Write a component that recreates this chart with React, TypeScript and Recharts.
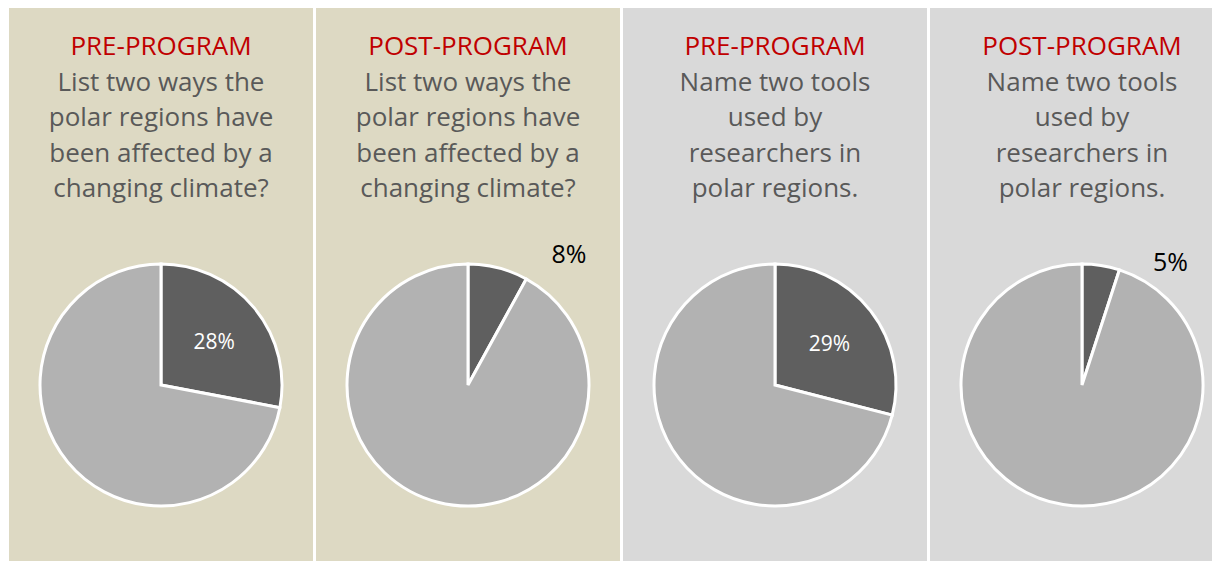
import { Cell, Pie, PieChart } from "recharts"

// survey panels, left to right
const phases = ["PRE-PROGRAM", "POST-PROGRAM", "PRE-PROGRAM", "POST-PROGRAM"]

const questions = [
    ["List two ways the", "polar regions have", "been affected by a", "changing climate?"],
    ["List two ways the", "polar regions have", "been affected by a", "changing climate?"],
    ["Name two tools", "used by", "researchers in", "polar regions."],
    ["Name two tools", "used by", "researchers in", "polar regions."],
]

// share of correct answers (%)
const correct = [28, 8, 29, 5]
const sliceNames = ["Correct", "Other"]

const panelBg = ["#ddd9c3", "#ddd9c3", "#d9d9d9", "#d9d9d9"]
const sliceColors = ["#5f5f5f", "#b2b2b2"]

// where the percentage label goes for each panel
const labelInside = [true, false, true, false]
const labelAngle = [0, 52.5, 0, 54.5]
const labelDist = [0.57, 1.37, 0.57, 1.26]

const PANEL_W = 304
const PANEL_H = 554
const RADIUS = 121
const CY = 378

const RAD = Math.PI / 180

function makeLabel(panel: number) {
    return (props: any) => {
        const { cx, cy, midAngle, outerRadius, index, value } = props
        if (index !== 0) return null
        const inside = labelInside[panel]
        const angle = inside ? midAngle : labelAngle[panel]
        const r = outerRadius * labelDist[panel]
        const x = cx + r * Math.cos(-angle * RAD)
        const y = cy + r * Math.sin(-angle * RAD)
        return (
            <text
                x={x}
                y={y}
                textAnchor="middle"
                dominantBaseline="central"
                fill={inside ? "#ffffff" : "#000000"}
                fontSize={inside ? 21 : 25}
                fontFamily="'Open Sans', sans-serif"
            >
                {value}%
            </text>
        )
    }
}

function Panel({ i }: { i: number }) {
    const data = [
        { name: sliceNames[0], value: correct[i] },
        { name: sliceNames[1], value: 100 - correct[i] },
    ]

    return (
        <div
            style={{
                position: "relative",
                width: PANEL_W,
                height: PANEL_H,
                flex: "0 0 auto",
                background: panelBg[i],
                borderTop: "1px solid #cfcfcf",
                boxSizing: "border-box",
            }}
        >
            <div
                style={{
                    position: "absolute",
                    top: 20,
                    left: 0,
                    width: PANEL_W,
                    textAlign: "center",
                    fontFamily: "'Open Sans', sans-serif",
                    fontSize: 26,
                    lineHeight: "35.5px",
                    color: "#595959",
                }}
            >
                <div style={{ color: "#c00000" }}>{phases[i]}</div>
                {questions[i].map((line, k) => (
                    <div key={k}>{line}</div>
                ))}
            </div>
            <div style={{ position: "absolute", top: -1, left: 0 }}>
                <PieChart
                    width={PANEL_W}
                    height={PANEL_H}
                    margin={{ top: 0, right: 0, bottom: 0, left: 0 }}
                >
                    <Pie
                        data={data}
                        dataKey="value"
                        nameKey="name"
                        cx={PANEL_W / 2}
                        cy={CY}
                        outerRadius={RADIUS}
                        startAngle={90}
                        endAngle={-270}
                        stroke="#ffffff"
                        strokeWidth={3}
                        label={makeLabel(i)}
                        labelLine={false}
                        isAnimationActive={false}
                    >
                        {data.map((d, k) => (
                            <Cell key={d.name} fill={sliceColors[k]} />
                        ))}
                    </Pie>
                </PieChart>
            </div>
        </div>
    )
}

export default function App() {
    return (
        <div
            style={{
                marginLeft: 1,
                marginTop: -1,
                width: 1211,
                height: PANEL_H,
                display: "flex",
                gap: 3,
                overflow: "hidden",
                background: "#ffffff",
            }}
        >
            {phases.map((_, i) => (
                <Panel key={i} i={i} />
            ))}
        </div>
    )
}
